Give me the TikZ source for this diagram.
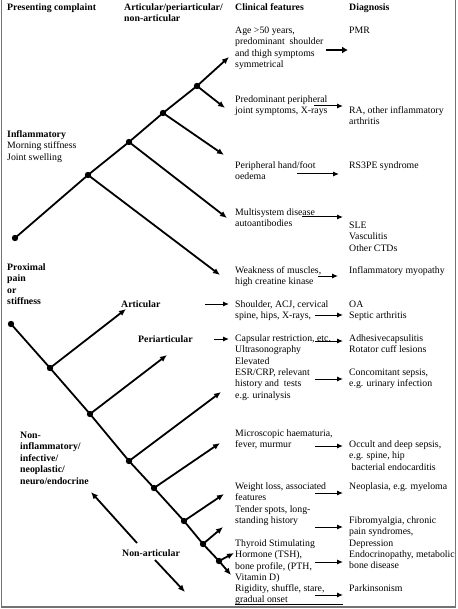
\documentclass[tikz,border=0pt]{standalone}
\usepackage{fontspec}
\setmainfont{Liberation Serif}
\usetikzlibrary{arrows.meta}
\begin{document}
\begin{tikzpicture}[x=1pt,y=-1pt,
  txt/.style={anchor=base west, align=left, inner sep=0pt, font=\fontsize{9.8}{11.4}\selectfont},
  btxt/.style={txt, font=\fontsize{9.8}{11.4}\selectfont\bfseries},
  treearrow/.style={line width=1.8pt, -{Latex[length=7pt,width=6pt]}},
  dx/.style={line width=1pt, -{Latex[length=6pt,width=5pt]}},
  pmr/.style={line width=2.6pt, -{Latex[length=6pt,width=7pt]}},
  frame/.style={draw=black!55, line width=1.4pt}
]
\useasboundingbox (0,0) rectangle (457,609);
% frame
\coordinate (fa) at (1.5,0);
\coordinate (fb) at (1.5,607);
\coordinate (fc) at (455.5,607);
\coordinate (fd) at (455.5,0);
\draw[frame] (fa) -- (fb) -- (fc) -- (fd);

% base anchor of a multi-line node = last line: y = first baseline + (n-1)*11.4
% headers
\node[btxt] (h1) at (7,10.5) {Presenting complaint};
\node[btxt] (h2) at (124,{10.5+11.4}) {Articular/periarticular/\\non-articular};
\node[btxt] (h3) at (235,10.5) {Clinical features};
\node[btxt] (h4) at (349,10.5) {Diagnosis};

% left labels
\node[txt] (infl) at (7,{137.5+2*11.4}) {\textbf{Inflammatory}\\Morning stiffness\\Joint swelling};
\node[btxt] (prox) at (7,{270.5+3*11.4}) {Proximal\\pain\\or\\stiffness};
\node[btxt] (noninf) at (20,{438.5+4*11.4}) {Non-\\inflammatory/\\infective/\\neoplastic/\\neuro/endocrine};
\node[btxt] (art) at (121,307.5) {Articular};
\node[btxt] (peri) at (138,342.5) {Periarticular};
\node[btxt] (nonart) at (122,556.5) {Non-articular};

% clinical features
\node[txt] (c1) at (235,{33.3+3*11.4}) {Age >50 years,\\predominant\ \ shoulder\\and thigh symptoms\\symmetrical};
\node[txt] (c2) at (235,{102.3+11.4}) {Predominant peripheral\\joint symptoms, X-rays};
\node[txt] (c3) at (235,{168.3+11.4}) {Peripheral hand/foot\\oedema};
\node[txt] (c4) at (235,{215.3+11.4}) {Multisystem disease\\autoantibodies};
\node[txt] (c5) at (235,{273.3+11.4}) {Weakness of muscles,\\high creatine kinase};
\node[txt] (c6) at (235,{307.3+11.4}) {Shoulder, ACJ, cervical\\spine, hips, X-rays,};
\node[txt] (c7) at (235,{341.3+5*11.4}) {Capsular restriction, etc.\\Ultrasonography\\Elevated\\ESR/CRP, relevant\\history and\ \ tests\\e.g. urinalysis};
\node[txt] (c8) at (235,{436.3+11.4}) {Microscopic haematuria,\\fever, murmur};
\node[txt] (c9) at (235,{489.3+11.4}) {Weight loss, associated\\features};
\node[txt] (c10) at (235,{512.3+11.4}) {Tender spots, long-\\standing history};
\node[txt] (c11) at (235,{546.3+3*11.4}) {Thyroid Stimulating\\Hormone (TSH),\\bone profile, (PTH,\\Vitamin D)};
\node[txt] (c12) at (235,{591.3+11.4}) {Rigidity, shuffle, stare,\\gradual onset};

% diagnoses
\node[txt] (d1) at (349,33.3) {PMR};
\node[txt] (d2) at (349,{113.3+11.4}) {RA, other inflammatory\\arthritis};
\node[txt] (d3) at (349,168.3) {RS3PE syndrome};
\node[txt] (d4) at (349,{228.3+2*11.4}) {SLE\\Vasculitis\\Other CTDs};
\node[txt] (d5) at (349,273.3) {Inflammatory myopathy};
\node[txt] (d6) at (349,{307.3+11.4}) {OA\\Septic arthritis};
\node[txt] (d7) at (349,{341.3+11.4}) {Adhesivecapsulitis\\Rotator cuff lesions};
\node[txt] (d8) at (349,{375.3+11.4}) {Concomitant sepsis,\\e.g. urinary infection};
\node[txt] (d9) at (349,{447.3+2*11.4}) {Occult and deep sepsis,\\e.g. spine, hip\\\hspace{2.5pt}bacterial endocarditis};
\node[txt] (d10) at (349,489.3) {Neoplasia, e.g. myeloma};
\node[txt] (d11) at (349,{523.3+4*11.4}) {Fibromyalgia, chronic\\pain syndromes,\\Depression\\Endocrinopathy, metabolic\\bone disease};
\node[txt] (d12) at (349,591.3) {Parkinsonism};

% tree 1
\coordinate (r1) at (15,238);
\coordinate (a1) at (88,175);
\coordinate (b1) at (129,142);
\coordinate (c1p) at (163,113);
\coordinate (d1p) at (197,86);
\coordinate (t1) at (229,57);
\coordinate (t2) at (225,108);
\coordinate (t3) at (224,155);
\coordinate (t4) at (227,218);
\coordinate (t5) at (220,275);
\draw[treearrow] (r1) -- (a1) -- (b1) -- (c1p) -- (d1p) -- (t1);
\draw[treearrow] (d1p) -- (t2);
\draw[treearrow] (c1p) -- (t3);
\draw[treearrow] (b1) -- (t4);
\draw[treearrow] (a1) -- (t5);
\foreach \p in {r1,a1,b1,c1p,d1p} \fill (\p) circle (3.2pt);

% tree 2
\coordinate (r2) at (11,324);
\coordinate (e2) at (50,368);
\coordinate (f2) at (90,414);
\coordinate (g2) at (129,461);
\coordinate (h2) at (154,488);
\coordinate (i2) at (184,521);
\coordinate (j2) at (203,544);
\coordinate (k2) at (219,561);
\coordinate (z2) at (231,575);
\coordinate (te) at (126,309);
\coordinate (tf) at (167,355);
\coordinate (tg) at (221,392);
\coordinate (th) at (220,443);
\coordinate (ti) at (224,494);
\coordinate (tj) at (223,527);
\coordinate (tk) at (234,553);
\draw[treearrow] (r2) -- (e2) -- (f2) -- (g2) -- (h2) -- (i2) -- (j2) -- (k2) -- (z2);
\draw[treearrow] (e2) -- (te);
\draw[treearrow] (f2) -- (tf);
\draw[treearrow] (g2) -- (tg);
\draw[treearrow] (h2) -- (th);
\draw[treearrow] (i2) -- (ti);
\draw[treearrow] (j2) -- (tj);
\draw[treearrow] (k2) -- (tk);
\foreach \p in {r2,e2,f2,g2,h2,i2,j2,k2} \fill (\p) circle (3.2pt);

% non-articular arrows
\coordinate (na1) at (137,543);
\coordinate (na2) at (91,492);
\coordinate (na3) at (155,560);
\coordinate (na4) at (185,592);
\draw[treearrow] (na1) -- (na2);
\draw[treearrow] (na3) -- (na4);

% articular / periarticular arrows
\coordinate (aa1) at (205,304);
\coordinate (aa2) at (229,304);
\coordinate (pa1) at (214,339);
\coordinate (pa2) at (229,339);
\draw[dx] (aa1) -- (aa2);
\draw[dx] (pa1) -- (pa2);

% clinical -> diagnosis arrows
\coordinate (x1a) at (326,50);  \coordinate (x1b) at (348,50);
\draw[pmr] (x1a) -- (x1b);
\foreach \n/\xa/\xb/\yy in {2/314/343/106, 3/297/339/174, 4/302/343/217, 5/318/338/276,
  6/315/343/315, 7/315/343/341, 8/315/343/379, 9/315/343/446, 10/315/343/493,
  11/315/343/527, 12/315/343/562, 13/315/343/595} {
  \coordinate (x\n a) at (\xa,\yy);
  \coordinate (x\n b) at (\xb,\yy);
  \draw[dx] (x\n a) -- (x\n b);
}
\coordinate (ula) at (235,604.5);
\coordinate (ulb) at (343,604.5);
\draw[line width=0.9pt] (ula) -- (ulb);
\end{tikzpicture}
\end{document}
